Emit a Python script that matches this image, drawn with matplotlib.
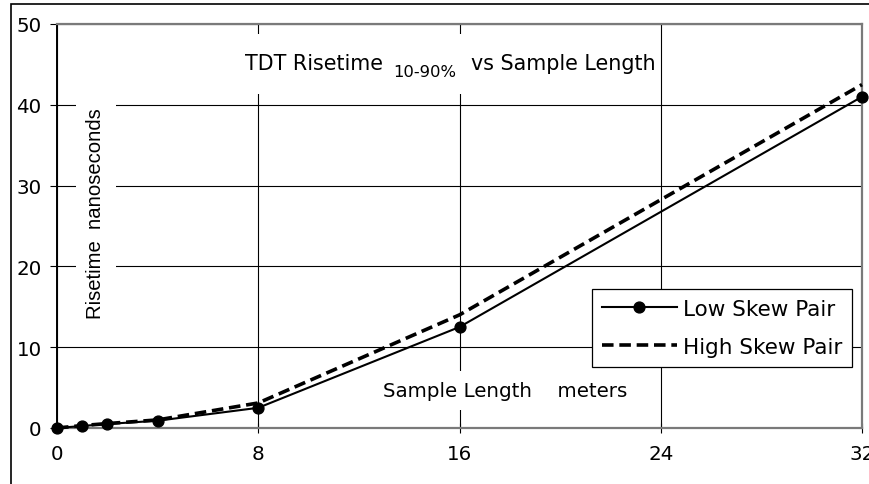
import matplotlib
matplotlib.use("Agg")
import matplotlib.pyplot as plt
from matplotlib.patches import Rectangle

# sample length in meters
lengths = [0, 1, 2, 4, 8, 16, 32]
# TDT risetime 10-90% in nanoseconds
low_skew = [0.0, 0.25, 0.5, 0.9, 2.5, 12.5, 41.0]
high_skew = [0.0, 0.3, 0.55, 1.0, 3.1, 14.0, 42.5]

x_ticks = [0, 8, 16, 24, 32]
y_ticks = [0, 10, 20, 30, 40, 50]

plt.rcParams['font.family'] = ['DejaVu Sans']
FS = 14.3

fig = plt.figure(figsize=(8.69, 4.85), dpi=100)
ax = fig.add_axes([57 / 869, 1 - 429 / 485, 805 / 869, 404 / 485])

# outer frame of the picture (runs off the right and bottom edges)
fig.patches.append(Rectangle((11 / 869, -0.2), 1.3, 0.2 + 1 - 5 / 485,
                             transform=fig.transFigure, fill=False,
                             edgecolor='black', linewidth=1.2))

ax.plot(lengths, low_skew, color='black', linewidth=1.5, marker='o',
        markersize=7.8, label='Low Skew Pair', clip_on=False, zorder=5)
ax.plot(lengths, high_skew, color='black', linewidth=2.6, dashes=(3.2, 1.6),
        label='High Skew Pair', clip_on=False, zorder=4)

ax.set_xlim(0, 32)
ax.set_ylim(0, 50)
ax.set_xticks(x_ticks)
ax.set_yticks(y_ticks)
ax.grid(True, color='black', linewidth=0.8)
ax.set_axisbelow(True)
ax.tick_params(axis='x', direction='inout', length=7, width=0.8, pad=8, labelsize=FS)
ax.tick_params(axis='y', direction='out', length=5, width=0.8, pad=6, labelsize=FS)

for side in ['top', 'right', 'bottom']:
    ax.spines[side].set_color('#7a7a7a')
    ax.spines[side].set_linewidth(1.6)
ax.spines['left'].set_color('black')
ax.spines['left'].set_linewidth(1.4)

# white patch behind the title, it hides the grid there
ax.add_patch(Rectangle(((240 - 57) / 805, (429 - 95) / 404), (656 - 240) / 805, 60 / 404,
                       transform=ax.transAxes, facecolor='white', edgecolor='none', zorder=2))
t1 = ax.text(7.47, 45.2, 'TDT Risetime', fontsize=14.9, ha='left', va='center', zorder=3)
t2 = ax.annotate('10-90%', xy=(1, 0.5), xycoords=t1, xytext=(7.5, -6.5),
                 textcoords='offset points', fontsize=11.8, ha='left', va='center', zorder=3)
ax.annotate('vs Sample Length', xy=(1, 0.5), xycoords=t2, xytext=(10.5, 6.5),
            textcoords='offset points', fontsize=14.9, ha='left', va='center', zorder=3)

box = dict(boxstyle='square,pad=0.5', facecolor='white', edgecolor='none')
ax.text(1.55, 26.6, 'Risetime  nanoseconds', rotation=90, fontsize=14.6,
        family='Liberation Sans', ha='center', va='center', bbox=box, zorder=3)
ax.text(17.8, 4.6, 'Sample Length    meters', fontsize=FS,
        ha='center', va='center', bbox=box, zorder=3)

leg = ax.legend(loc='upper right', bbox_to_anchor=((852 - 57) / 805, (429 - 290) / 404),
                borderaxespad=0, fontsize=15.5, numpoints=1, handlelength=3.5,
                handletextpad=0.28, labelspacing=0.85, borderpad=0.45,
                fancybox=False, framealpha=1, edgecolor='black')
leg.get_frame().set_linewidth(0.9)
leg.set_zorder(10)

fig.savefig('out.png', dpi=100)
